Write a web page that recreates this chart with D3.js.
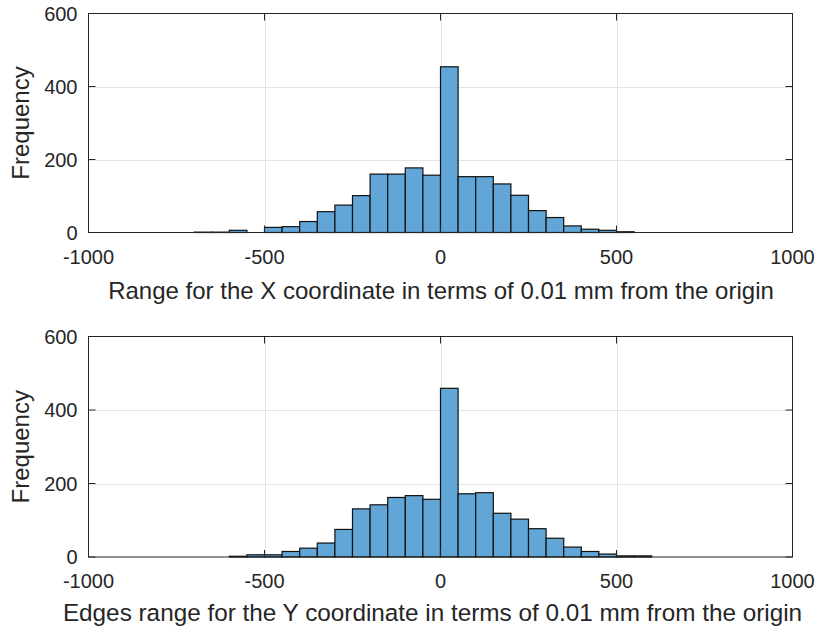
<!DOCTYPE html>
<html><head><meta charset="utf-8">
<script src="https://cdn.jsdelivr.net/npm/d3@7"></script>
<style>
body{margin:0;background:#fff}
svg{display:block}
text{font-family:"Liberation Sans",Arial,Helvetica,sans-serif;fill:#262626}
</style></head>
<body><svg id="c" width="822" height="628"></svg>
<script>
// ---- data ----
const binWidth = 50;
const binStartsX = [-700,-650,-600,-550,-500,-450,-400,-350,-300,-250,-200,-150,-100,-50,0,50,100,150,200,250,300,350,400,450,500];
const countsX    = [1,1,6,0,14,16,30,57,75,101,160,160,177,157,454,153,153,133,102,60,41,18,9,6,2];
const binStartsY = [-600,-550,-500,-450,-400,-350,-300,-250,-200,-150,-100,-50,0,50,100,150,200,250,300,350,400,450,500,550];
const countsY    = [2,6,6,15,24,38,75,131,142,162,167,157,459,172,175,119,103,77,51,27,15,8,3,3];
const xTicks = [-1000,-500,0,500,1000];
const yTicks = [0,200,400,600];
const xTitles = ["Range for the X coordinate in terms of 0.01 mm from the origin",
                 "Edges range for the Y coordinate in terms of 0.01 mm from the origin"];
const yTitle = "Frequency";

// ---- layout ----
const svg = d3.select("#c");
const left = 88.5, right = 792.5;
const panels = [
  {top: 13.5, bottom: 232.5, starts: binStartsX, counts: countsX, title: xTitles[0], titleDy: 66, titleDx: 0.5, titleSize: 24},
  {top: 336.5, bottom: 557, starts: binStartsY, counts: countsY, title: xTitles[1], titleDy: 64, titleDx: -8, titleSize: 24.3}
];
const axisColor = "#262626";
const tickLen = 7;

panels.forEach(p => {
  const g = svg.append("g");
  const x = d3.scaleLinear().domain([-1000, 1000]).range([left, right]);
  const y = d3.scaleLinear().domain([0, 600]).range([p.bottom, p.top]);

  // grid
  g.append("g").selectAll("line").data(xTicks.slice(1, -1)).join("line")
    .attr("x1", d => Math.round(x(d)) + 0.5).attr("x2", d => Math.round(x(d)) + 0.5)
    .attr("y1", p.top).attr("y2", p.bottom)
    .attr("stroke", "#e3e3e3").attr("stroke-width", 1);
  g.append("g").selectAll("line").data(yTicks.slice(1, -1)).join("line")
    .attr("y1", d => Math.round(y(d)) + 0.5).attr("y2", d => Math.round(y(d)) + 0.5)
    .attr("x1", left).attr("x2", right)
    .attr("stroke", "#e3e3e3").attr("stroke-width", 1);

  // bars
  const bins = p.starts.map((s, i) => ({x0: s, x1: s + binWidth, n: p.counts[i]})).filter(b => b.n > 0);
  g.append("g").selectAll("rect").data(bins).join("rect")
    .attr("x", d => x(d.x0)).attr("width", d => x(d.x1) - x(d.x0))
    .attr("y", d => y(d.n)).attr("height", d => y(0) - y(d.n))
    .attr("fill", "#62a6d7").attr("stroke", "#111").attr("stroke-width", 1.2);

  // box
  g.append("rect").attr("x", left).attr("y", p.top)
    .attr("width", right - left).attr("height", p.bottom - p.top)
    .attr("fill", "none").attr("stroke", axisColor).attr("stroke-width", 1);

  // ticks inward
  xTicks.forEach(t => {
    g.append("line").attr("x1", x(t)).attr("x2", x(t)).attr("y1", p.bottom).attr("y2", p.bottom - tickLen).attr("stroke", axisColor);
    g.append("line").attr("x1", x(t)).attr("x2", x(t)).attr("y1", p.top).attr("y2", p.top + tickLen).attr("stroke", axisColor);
  });
  yTicks.forEach(t => {
    g.append("line").attr("y1", y(t)).attr("y2", y(t)).attr("x1", left).attr("x2", left + tickLen).attr("stroke", axisColor);
    g.append("line").attr("y1", y(t)).attr("y2", y(t)).attr("x1", right).attr("x2", right - tickLen).attr("stroke", axisColor);
  });

  // tick labels
  g.append("g").selectAll("text").data(xTicks).join("text")
    .attr("x", d => x(d)).attr("y", p.bottom + 31)
    .attr("text-anchor", "middle").attr("font-size", 20).text(d => d);
  g.append("g").selectAll("text").data(yTicks).join("text")
    .attr("x", left - 11).attr("y", d => y(d) + 7)
    .attr("text-anchor", "end").attr("font-size", 20).text(d => d);

  // titles
  g.append("text").attr("transform", `translate(29,${(p.top + p.bottom) / 2}) rotate(-90)`)
    .attr("text-anchor", "middle").attr("font-size", 24).text(yTitle);
  g.append("text").attr("x", (left + right) / 2 + p.titleDx).attr("y", p.bottom + p.titleDy)
    .attr("text-anchor", "middle").attr("font-size", p.titleSize).text(p.title);
});
</script>
</body></html>
